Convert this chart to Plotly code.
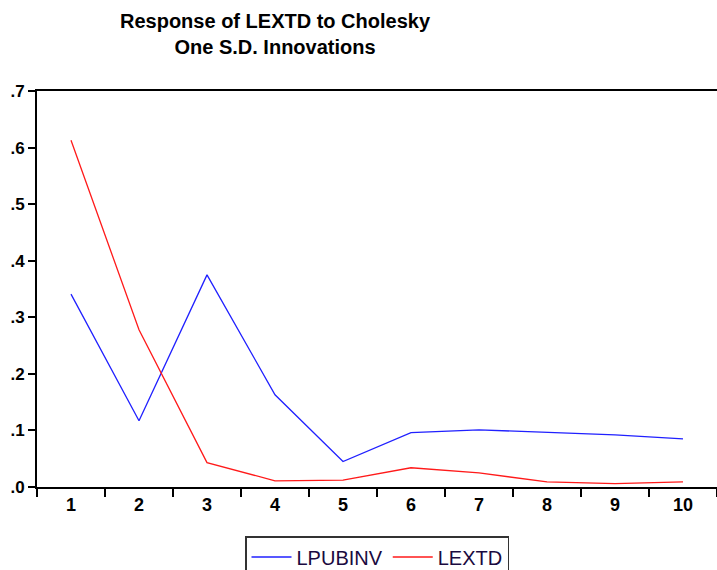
import plotly.graph_objects as go

periods = ["1", "2", "3", "4", "5", "6", "7", "8", "9", "10"]
lpubinv = [0.341, 0.117, 0.375, 0.163, 0.045, 0.096, 0.101, 0.097, 0.092, 0.085]
lextd = [0.613, 0.278, 0.043, 0.011, 0.012, 0.034, 0.025, 0.009, 0.006, 0.009]
ytick_vals = [0.0, 0.1, 0.2, 0.3, 0.4, 0.5, 0.6, 0.7]
ytick_text = [".0", ".1", ".2", ".3", ".4", ".5", ".6", ".7"]

fig = go.Figure()
fig.add_trace(go.Scatter(x=periods, y=lpubinv, mode="lines", name="LPUBINV",
                         line=dict(color="#2020ff", width=1.3)))
fig.add_trace(go.Scatter(x=periods, y=lextd, mode="lines", name="LEXTD",
                         line=dict(color="#ff1a1a", width=1.3)))

fig.add_annotation(
    text="<b>Response of LEXTD to Cholesky<br>One S.D. Innovations</b>",
    xref="paper", yref="paper", x=(275 - 37) / 680, y=1 + (91 - 8) / 396,
    xanchor="center", yanchor="top", showarrow=False, align="center",
    font=dict(family="Liberation Sans", size=20, color="black"))

fig.update_layout(
    width=717, height=570,
    paper_bgcolor="white", plot_bgcolor="white",
    margin=dict(l=37, r=0, t=91, b=83),
    showlegend=True,
    legend=dict(orientation="h", x=0.5, xanchor="center", xref="paper",
                yref="container", y=(570 - 536) / 570, yanchor="top",
                itemwidth=40,
                bordercolor="#333", borderwidth=1.5,
                font=dict(family="Liberation Sans", size=20, color="#1a0a40")),
    xaxis=dict(type="category", range=[-0.5, 9.5], tickson="boundaries",
               ticks="outside", ticklen=8, tickwidth=2, tickcolor="black",
               showline=True, linecolor="black", linewidth=2, mirror=True,
               showgrid=False, zeroline=False,
               tickfont=dict(family="Liberation Sans", size=18, color="black", weight="bold")),
    yaxis=dict(range=[0, 0.7], tickvals=ytick_vals, ticktext=ytick_text,
               ticks="outside", ticklen=7, tickwidth=2, tickcolor="black",
               showline=True, linecolor="black", linewidth=2,
               showgrid=False, zeroline=False,
               tickfont=dict(family="Liberation Sans", size=17, color="black", weight="bold")),
)

fig.write_html("out.html")
